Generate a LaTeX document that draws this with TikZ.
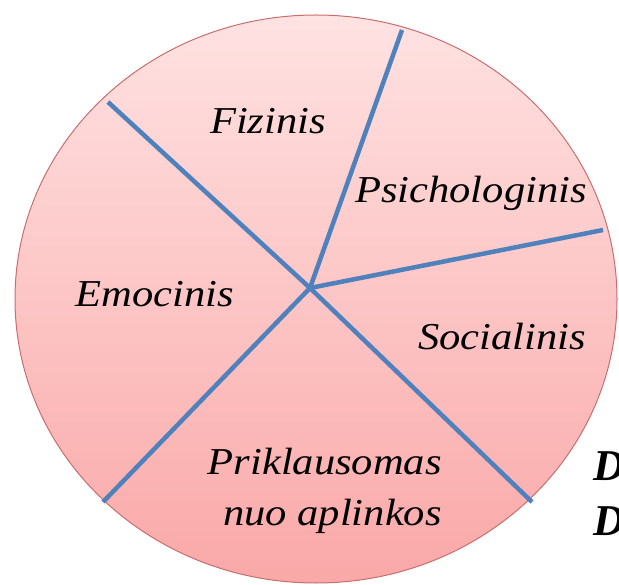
\documentclass[tikz,border=0pt]{standalone}
\usepackage{fontspec}
\usepackage{graphicx}
\setmainfont{Liberation Serif}
\definecolor{divblue}{RGB}{79,129,189}
\definecolor{rimred}{RGB}{200,110,110}
\definecolor{pinktop}{RGB}{255,226,226}
\definecolor{pinkbot}{RGB}{250,168,168}
\newcommand{\widelbl}[1]{\scalebox{1.12}[1]{#1}}
\tikzset{
  lbl/.style={font=\fontsize{38}{44}\selectfont\itshape, inner sep=0pt, text=black},
  edgeletter/.style={font=\fontsize{44}{50}\selectfont\bfseries\itshape, inner sep=0pt, anchor=base west},
  divider/.style={draw=divblue, line width=4.5pt}
}
\begin{document}
\begin{tikzpicture}[x=1pt,y=-1pt]
\useasboundingbox (0,0) rectangle (619,585);
\clip (0,0) rectangle (619,585);
\shade[top color=pinktop, bottom color=pinkbot, draw=rimred, line width=1pt]
  (316,299) ellipse [x radius=301, y radius=284];
\coordinate (c) at (310,288);
\coordinate (pa) at (108,102);
\coordinate (pb) at (402,30);
\coordinate (pc) at (603,230);
\coordinate (pd) at (532,502);
\coordinate (pe) at (103,502);
\draw[divider] (c) -- (pa);
\draw[divider] (c) -- (pb);
\draw[divider] (c) -- (pc);
\draw[divider] (c) -- (pd);
\draw[divider] (c) -- (pe);
\node[lbl, anchor=base] (fiz) at (268,134) {\widelbl{Fizinis}};
\node[lbl, anchor=base] (psi) at (471,203) {\widelbl{Psichologinis}};
\node[lbl, anchor=base] (emo) at (155,307) {\widelbl{Emocinis}};
\node[lbl, anchor=base] (soc) at (502,350) {\widelbl{Socialinis}};
\node[lbl, anchor=base east] (pri1) at (442,475) {\widelbl{Priklausomas}};
\node[lbl, anchor=base east] (pri2) at (442,525) {\widelbl{nuo aplinkos}};
\node[edgeletter] (d1) at (593,480) {D};
\node[edgeletter] (d2) at (593,535) {D};
\end{tikzpicture}
\end{document}
